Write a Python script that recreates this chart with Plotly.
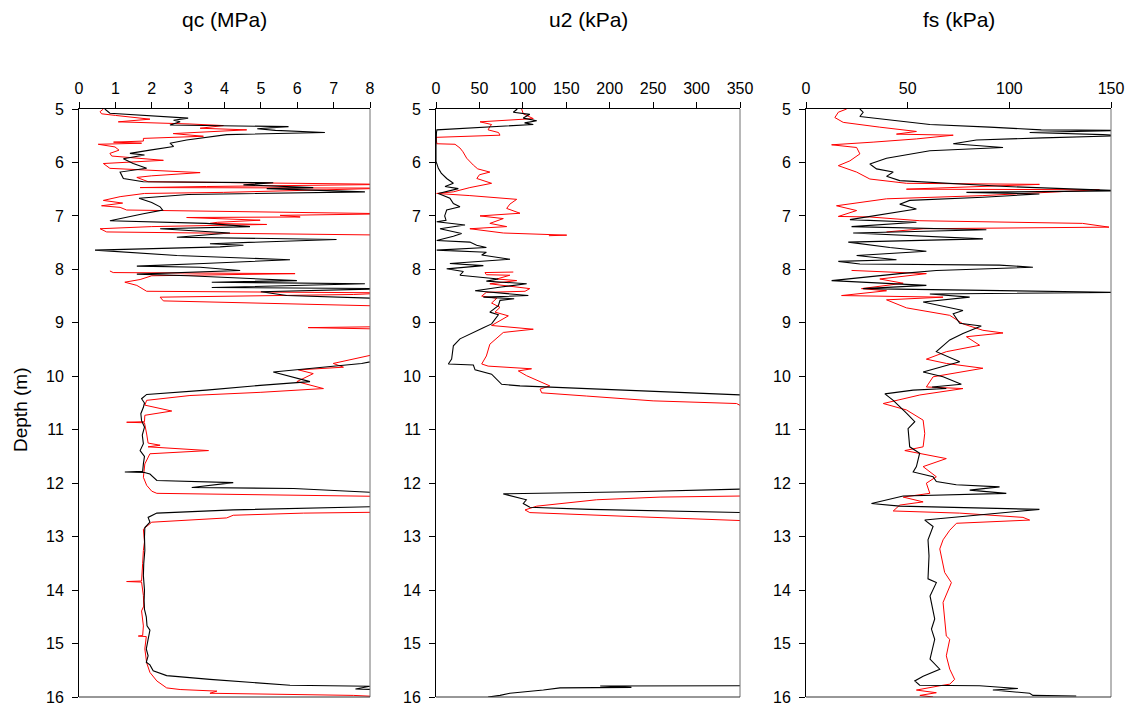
import plotly.graph_objects as go

# ---------------- data (depth in m) ----------------
qc_black_depth = [5.00, 5.08, 5.17, 5.21, 5.24, 5.30, 5.33, 5.37, 5.40, 5.44, 5.48, 5.58, 5.64, 5.70, 5.77,
                  5.83, 5.86, 5.93, 6.02, 6.11, 6.18, 6.30, 6.36, 6.38, 6.42, 6.47, 6.49, 6.55, 6.60, 6.67,
                  6.75, 6.83, 6.89, 6.96, 7.09, 7.14, 7.20, 7.24, 7.32, 7.40, 7.44, 7.52, 7.55, 7.58, 7.64,
                  7.74, 7.82, 7.89, 7.94, 7.96, 8.02, 8.09, 8.12, 8.21, 8.24, 8.27, 8.34, 8.36, 8.42, 8.49,
                  8.55, 9.00, 9.60, 9.76, 9.92, 10.10, 10.17, 10.26, 10.34, 10.42, 10.50, 10.58, 10.70, 10.83,
                  10.95, 11.10, 11.26, 11.39, 11.50, 11.64, 11.78, 11.79, 11.80, 11.83, 11.95, 11.99, 12.08,
                  12.10, 12.19, 12.30, 12.43, 12.50, 12.56, 12.64, 12.73, 12.83, 13.00, 13.26, 13.50, 13.73,
                  14.00, 14.20, 14.36, 14.50, 14.67, 14.75, 14.92, 15.10, 15.23, 15.35, 15.40, 15.51, 15.60,
                  15.67, 15.78, 15.80, 15.85, 15.87, 16.00]
qc_black = [0.71, 0.85, 3.00, 2.60, 2.78, 2.50, 5.76, 4.90, 5.40, 6.76, 4.06, 2.96, 2.50, 2.60, 1.95,
            1.40, 1.80, 1.22, 1.49, 1.86, 1.13, 1.22, 1.77, 5.34, 4.52, 6.44, 5.16, 7.86, 3.00, 1.65,
            2.00, 2.23, 2.30, 1.77, 0.85, 3.50, 4.70, 2.23, 4.15, 2.69, 7.08, 3.60, 4.52, 3.88, 0.44,
            2.69, 5.80, 3.42, 1.59, 3.33, 4.43, 1.59, 3.00, 5.99, 3.65, 7.86, 3.65, 8.60, 5.00, 5.71,
            8.60, 9.0, 9.0, 7.77, 5.34, 6.35, 4.98, 3.50, 1.86, 1.72, 1.80, 1.77, 1.70, 1.72,
            1.80, 1.74, 1.77, 1.68, 1.80, 1.77, 1.75, 1.26, 1.80, 1.95, 2.14, 4.24, 3.10,
            5.90, 8.60, 9.0, 8.60, 4.24, 2.14, 1.90, 1.95, 1.81, 1.80, 1.81, 1.78, 1.77,
            1.80, 1.79, 1.80, 1.85, 1.87, 1.95, 1.90, 1.85, 1.90, 1.85, 1.95, 2.04, 2.41,
            3.60, 5.80, 8.00, 7.60, 8.60, 9.00]

qc_red_depth = [5.00, 5.05, 5.09, 5.12, 5.19, 5.24, 5.28, 5.31, 5.36, 5.39, 5.46, 5.51, 5.55, 5.60, 5.62,
                5.64, 5.66, 5.71, 5.77, 5.83, 5.88, 5.96, 6.02, 6.11, 6.19, 6.25, 6.28, 6.36, 6.41, 6.45,
                6.47, 6.48, 6.56, 6.58, 6.64, 6.71, 6.76, 6.81, 6.84, 6.89, 6.96, 6.99, 7.02, 7.03, 7.08,
                7.12, 7.14, 7.16, 7.20, 7.24, 7.30, 7.36, 7.37,
                8.03, 8.06, 8.08, 8.12, 8.19, 8.24, 8.30, 8.41, 8.44, 8.47, 8.52, 8.59, 8.69, 9.00, 9.07,
                9.09, 9.12, 9.30, 9.52, 9.76, 9.83, 9.88, 9.95, 10.10, 10.23, 10.30, 10.36, 10.45, 10.54,
                10.65, 10.73, 10.85, 10.86, 10.87, 11.08, 11.25, 11.29, 11.32, 11.39, 11.45, 11.64, 11.89,
                12.04, 12.15, 12.19, 12.25, 12.40, 12.54, 12.56, 12.60, 12.65, 12.73, 12.86, 13.10, 13.26,
                13.50, 13.83, 13.84, 13.85, 14.10, 14.30, 14.39, 14.67, 14.85, 14.86, 14.87, 15.10, 15.36,
                15.54, 15.70, 15.83, 15.86, 15.89, 15.93, 15.97, 16.00]
qc_red = [0.67, 0.58, 0.62, 1.00, 1.95, 1.08, 3.05, 3.97, 3.33, 4.61, 2.59, 3.42, 1.77, 1.77, 0.95,
          1.72, 0.53, 0.99, 1.10, 0.85, 0.90, 2.32, 0.67, 0.85, 3.33, 2.00, 1.59, 1.90, 8.60, 3.50,
          1.68, 8.60, 3.97, 1.80, 1.13, 0.67, 1.20, 0.62, 1.13, 1.31, 8.60, 5.53, 6.08, 2.96, 4.98,
          3.80, 3.60, 5.16, 2.00, 0.58, 0.76, 8.60, None,
          0.85, 0.94, 5.94, 2.00, 1.68, 1.26, 1.59, 1.86, 8.60, 7.54, 2.23, 2.32, 8.60, 9.0, 8.60,
          6.30, 8.60, 9.0, 8.60, 6.99, 7.27, 6.03, 6.44, 5.99, 6.72, 5.00, 3.05, 1.86, 1.81,
          2.55, 1.81, 1.80, 1.31, 1.80, 1.86, 1.90, 2.23, 1.90, 3.56, 1.95, 1.81, 1.77,
          1.86, 2.00, 2.14, 8.60, 9.0, 8.60, 6.17, 4.24, 4.06, 2.00, 1.77, 1.80, 1.77,
          1.75, 1.72, 1.31, 1.72, 1.77, 1.78, 1.72, 1.77, 1.75, 1.63, 1.85, 1.81, 1.86,
          1.95, 2.14, 2.41, 2.78, 3.79, 3.60, 7.54, 8.50]

u2_black_depth = [5.00, 5.01, 5.06, 5.10, 5.17, 5.22, 5.26, 5.29, 5.39, 5.45, 5.70, 5.98, 6.05, 6.11, 6.20,
                  6.30, 6.39, 6.45, 6.49, 6.58, 6.67, 6.77, 6.83, 6.89, 7.00, 7.08, 7.11, 7.17, 7.24, 7.33,
                  7.38, 7.46, 7.49, 7.55, 7.59, 7.64, 7.68, 7.73, 7.81, 7.89, 7.93, 7.99, 8.04, 8.11, 8.18,
                  8.22, 8.27, 8.33, 8.40, 8.49, 8.52, 8.55, 8.58, 8.68, 8.80, 8.85, 9.02, 9.09, 9.30, 9.43,
                  9.68, 9.77, 9.79, 9.88, 9.96, 10.15, 10.18, 10.35, 11.00, 12.05, 12.11, 12.16, 12.20,
                  12.31, 12.38, 12.45, 12.49, 12.55, 13.00, 15.70, 15.79, 15.795, 15.82, 15.83, 15.87,
                  15.93, 15.97, 16.00]
u2_black = [92, 93, 89, 108, 100.5, 116, 102, 112, 1, 0.5, 0, 0, 1.5, 2.7, 6,
            12.3, 20, 10.4, 25.7, 2.7, 16, 20, 27.6, 12.3, 10, 11.5, 0.8, 33.4, 4.6, 29.5,
            20, 0.8, 39, 46.8, 58, 0.8, 58, 52.6, 85.2, 16, 54.5, 12.3, 31.5, 27.6, 71.8,
            58, 104.4, 75, 45, 106.3, 54.5, 90, 73.7, 71.8, 62, 71.8, 64, 54.5, 27.6, 20,
            18, 14.2, 43, 45, 64, 75.6, 96.7, 352, 360, 360, 352, 227, 77.5,
            104, 100.5, 108, 177, 352, 360, 360, 352, 189, 225, 142.8, 123.6,
            85, 73.7, 60]

u2_red_depth = [5.00, 5.09, 5.18, 5.24, 5.29, 5.33, 5.39, 5.44, 5.49, 5.53, 5.65, 5.66, 5.73, 5.80, 5.92,
                6.05, 6.12, 6.18, 6.23, 6.30, 6.39, 6.47, 6.55, 6.58, 6.62, 6.69, 6.78, 6.86, 6.95, 7.00,
                7.05, 7.14, 7.20, 7.24, 7.32, 7.36, 7.37, 7.38,
                8.05, 8.06, 8.10, 8.11, 8.18, 8.21, 8.27, 8.36, 8.41, 8.43, 8.50, 8.54, 8.63, 8.71, 8.80,
                8.87, 9.05, 9.12, 9.18, 9.40, 9.62, 9.77, 9.81, 9.86, 9.90, 9.99, 10.18, 10.24, 10.31,
                10.37, 10.46, 10.51, 10.56, 11.00, 12.20, 12.24, 12.26, 12.31, 12.43, 12.50, 12.55, 12.63,
                12.70, 13.00, 16.00]
u2_red = [98.6, 100.5, 112, 50.7, 64, 62, 60, 72, 73.7, 0, 1, 21.9, 27.6, 31, 35.3,
          43, 48, 62, 50, 47, 64, 39, 20, 0.8, 39, 92.9, 85, 81.4, 96.7, 50.7,
          77.5, 62, 81.4, 39, 77.5, 150.5, 130, None,
          89, 56.4, 58, 85, 70, 92.9, 62, 108, 102.5, 58, 52.6, 70, 64, 73.7, 68,
          83.3, 64, 112, 77.5, 62, 58, 52.6, 60, 110, 94.8, 104.4, 131, 119.8, 121.7,
          173.5, 250, 346, 352, 360, 360, 352, 258, 185, 116, 102.5, 108, 235,
          352, 360, 360]

fs_black_depth = [5.00, 5.06, 5.14, 5.29, 5.34, 5.39, 5.40, 5.44, 5.48, 5.50, 5.54, 5.58, 5.65, 5.72, 5.78,
                  5.92, 6.03, 6.12, 6.18, 6.26, 6.34, 6.45, 6.53, 6.56, 6.59, 6.65, 6.71, 6.78, 6.87, 7.07,
                  7.12, 7.20, 7.26, 7.32, 7.43, 7.49, 7.59, 7.66, 7.74, 7.82, 7.85, 7.90, 7.92, 7.96, 8.02,
                  8.08, 8.21, 8.30, 8.36, 8.43, 8.46, 8.52, 8.61, 8.77, 8.83, 9.01, 9.06, 9.20, 9.32, 9.54,
                  9.73, 9.92, 10.01, 10.15, 10.20, 10.23, 10.26, 10.33, 10.45, 10.69, 10.85, 10.98, 11.32,
                  11.44, 11.69, 11.79, 11.88, 11.97, 12.03, 12.07, 12.13, 12.19, 12.24, 12.38, 12.43, 12.49,
                  12.53, 12.69, 12.81, 13.06, 13.36, 13.79, 13.86, 14.11, 14.54, 14.73, 14.92, 15.29, 15.48,
                  15.61, 15.70, 15.78, 15.79, 15.84, 15.87, 15.93, 15.97, 15.98]
fs_black = [26.5, 28.1, 26.5, 60.9, 90.3, 115.7, 155, 110, 146, 155, 116.5, 83.8, 72.4, 96.9, 60.9,
            39.6, 31.4, 34.7, 42.9, 39.6, 46.1, 98.5, 155, 78.9, 114.8, 87, 51, 46.1, 54.3, 21.6,
            54.3, 22.4, 88.7, 23.2, 87, 20.8, 41.2, 59.2, 24.9, 44.5, 15.9, 26.5, 95.2, 111.6, 64.1,
            46.1, 12.6, 59.2, 28.1, 155, 60.9, 80.5, 57.6, 77.2, 72.4, 75.6, 86.2, 77.2, 70.7, 64.1,
            75.6, 57.6, 67.4, 76.4, 62, 69, 52.7, 38.8, 42.9, 49.4, 53.5, 50.2, 51,
            55.9, 54.3, 52.7, 62.5, 64.1, 73.9, 95.2, 80.5, 98.5, 47.8, 32.2, 46.1, 114.8,
            103.4, 58.4, 62.5, 60, 60.5, 60, 64.1, 61, 63.3, 61.7, 63.3, 61, 65.8,
            57.6, 53.5, 55.9, 85.4, 104.2, 91.9, 110, 111.6, 132.9]

fs_red_depth = [5.00, 5.06, 5.16, 5.25, 5.34, 5.42, 5.47, 5.49, 5.56, 5.62, 5.67, 5.72, 5.84, 5.97, 6.06,
                6.18, 6.31, 6.39, 6.41, 6.50, 6.51, 6.62, 6.68, 6.81, 6.90, 7.01, 7.02, 7.09, 7.14, 7.21,
                7.24, 7.30, 7.32,
                8.02, 8.08, 8.18, 8.26, 8.36, 8.40, 8.49, 8.52, 8.57, 8.72, 8.86, 9.02, 9.14, 9.19, 9.26,
                9.42, 9.54, 9.68, 9.76, 9.85, 10.01, 10.20, 10.23, 10.35, 10.51, 10.63, 10.82, 11.07,
                11.32, 11.39, 11.54, 11.69, 11.88, 12.00, 12.19, 12.26, 12.35, 12.41, 12.52, 12.56, 12.64,
                12.69, 12.75, 12.88, 13.06, 13.23, 13.67, 13.86, 14.23, 14.86, 14.92, 15.23, 15.48, 15.67,
                15.76, 15.79, 15.87, 15.92, 15.97, 16.00]
fs_red = [20, 15.9, 14.2, 18.3, 36.3, 54.3, 44.5, 72.4, 54.3, 33, 12.6, 24.9, 26.5, 21.6, 15.9,
          24.9, 31.4, 49.4, 114.8, 49.4, 144.3, 87, 39.6, 15, 24.9, 15.9, 31.4, 56, 136, 149,
          57.6, 39.6, None,
          22.4, 59.2, 36.3, 47.8, 27.3, 39.6, 17.5, 67.4, 39.6, 49.4, 70.7, 77.2, 87, 96.9, 78.9,
          85.4, 69, 59.2, 69, 87, 62.5, 59.2, 77.2, 56, 38, 49.4, 57.6, 58.4,
          57.6, 48.6, 69, 57.6, 64.1, 59.2, 60.9, 47.8, 57.6, 46.1, 42.9, 75.6, 106.7,
          110, 74, 70.7, 67.4, 65.8, 68.2, 71.5, 67.4, 69, 70.7, 69, 70.7, 73.1,
          70.7, 65.8, 54.3, 64.1, 56, 62.5]

qc_ticks = [0, 1, 2, 3, 4, 5, 6, 7, 8]
u2_ticks = [0, 50, 100, 150, 200, 250, 300, 350]
fs_ticks = [0, 50, 100, 150]
depth_ticks = [5, 6, 7, 8, 9, 10, 11, 12, 13, 14, 15, 16]
titles = ["qc (MPa)", "u2 (kPa)", "fs (kPa)"]

for a, b in [(qc_black_depth, qc_black), (qc_red_depth, qc_red), (u2_black_depth, u2_black),
             (u2_red_depth, u2_red), (fs_black_depth, fs_black), (fs_red_depth, fs_red)]:
    assert len(a) == len(b), (len(a), len(b))

# ---------------- figure ----------------
# page body has an 8 px margin: figure is 1128x700, positioned at (8, 8) in the window
OFF = 8
W, H = 1136 - OFF, 708 - OFF
FONT = "Liberation Sans, Arial, sans-serif"
panels_px = [(79 - OFF, 370 - OFF), (436 - OFF, 740 - OFF), (806 - OFF, 1111 - OFF)]
top_px, bot_px = 109 - OFF, 697 - OFF
ydom = [1 - bot_px / H, 1 - top_px / H]

fig = go.Figure()
series = [
    (qc_black_depth, qc_black, qc_red_depth, qc_red),
    (u2_black_depth, u2_black, u2_red_depth, u2_red),
    (fs_black_depth, fs_black, fs_red_depth, fs_red),
]
for i, (bd, bv, rd, rv) in enumerate(series):
    suffix = "" if i == 0 else str(i + 1)
    fig.add_trace(go.Scatter(x=rv, y=rd, mode="lines",
                             line=dict(color="#ff0000", width=1, simplify=False),
                             xaxis="x" + suffix, yaxis="y" + suffix, showlegend=False,
                             connectgaps=False, hoverinfo="skip"))
    fig.add_trace(go.Scatter(x=bv, y=bd, mode="lines",
                             line=dict(color="#000000", width=1.1, simplify=False),
                             xaxis="x" + suffix, yaxis="y" + suffix, showlegend=False,
                             connectgaps=False, hoverinfo="skip"))

ranges = [[0, 8], [0, 350], [0, 150]]
tickvals = [qc_ticks, u2_ticks, fs_ticks]
layout = dict(width=W, height=H, margin=dict(l=0, r=0, t=0, b=0, autoexpand=False),
              paper_bgcolor="white", plot_bgcolor="white",
              font=dict(family=FONT, size=16, color="black"), showlegend=False)
shapes = []
annotations = []
for i, (x0, x1) in enumerate(panels_px):
    suffix = "" if i == 0 else str(i + 1)
    xk = "xaxis" + suffix
    yk = "yaxis" + suffix
    layout[xk] = dict(domain=[x0 / W, x1 / W], range=ranges[i], side="top", anchor="y" + suffix,
                      tickmode="array", tickvals=tickvals[i], ticks="outside", ticklen=6,
                      tickcolor="black", showline=True, linecolor="black", linewidth=1,
                      showgrid=False, zeroline=False, ticklabelstandoff=2, automargin=False,
                      tickfont=dict(family=FONT, size=16, color="black"))
    layout[yk] = dict(domain=ydom, range=[16, 5], anchor="x" + suffix,
                      tickmode="array", tickvals=depth_ticks, ticks="outside", ticklen=6,
                      tickcolor="black", showline=True, linecolor="black", linewidth=1,
                      showgrid=False, zeroline=False, ticklabelstandoff=5, automargin=False,
                      tickfont=dict(family=FONT, size=16, color="black"))
    # right and bottom frame lines
    shapes.append(dict(type="line", xref="x" + suffix + " domain", yref="y" + suffix + " domain",
                       x0=1, x1=1, y0=0, y1=1, line=dict(color="#707070", width=1)))
    shapes.append(dict(type="line", xref="x" + suffix + " domain", yref="y" + suffix + " domain",
                       x0=0, x1=1, y0=0, y1=0, line=dict(color="#303030", width=1)))
    annotations.append(dict(text=titles[i], xref="paper", yref="paper",
                            x=(x0 + x1) / 2 / W, y=1 - (20 - OFF) / H, showarrow=False,
                            xanchor="center", yanchor="middle",
                            font=dict(family=FONT, size=21, color="black")))

annotations.append(dict(text="Depth (m)", xref="paper", yref="paper", x=(20 - OFF) / W,
                        y=1 - (410 - OFF) / H,
                        showarrow=False, textangle=-90, xanchor="center", yanchor="middle",
                        font=dict(family=FONT, size=19, color="black")))
layout["shapes"] = shapes
layout["annotations"] = annotations
fig.update_layout(**layout)

fig.write_html("out.html")
